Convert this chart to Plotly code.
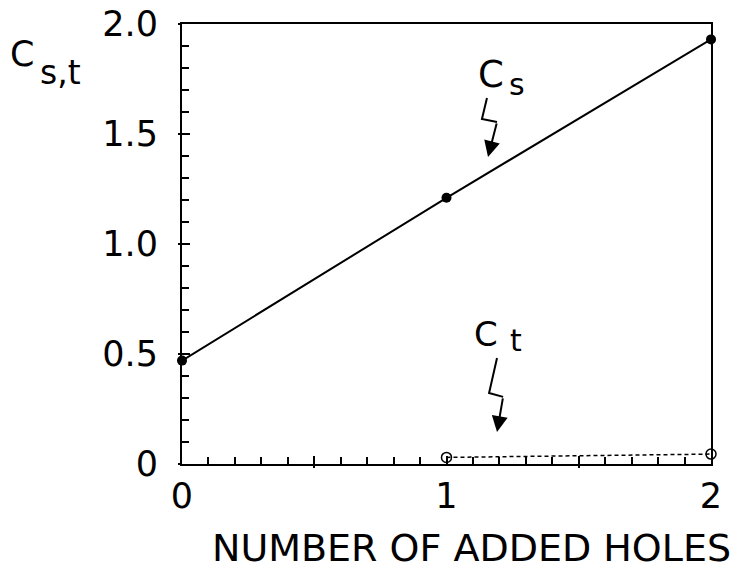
import plotly.graph_objects as go

# Number of added holes and the two coefficients
holes = [0, 1, 2]
cs_values = [0.47, 1.21, 1.93]
ct_holes = [1, 2]
ct_values = [0.03, 0.045]

x_tickvals = [0, 0.5, 1, 1.5, 2]
x_ticktext = ["0", "", "1", "", "2"]
y_tickvals = [0, 0.5, 1.0, 1.5, 2.0]
y_ticktext = ["0", "0.5", "1.0", "1.5", "2.0"]

# Zig-zag pointer paths (data units); last segment carries the arrowhead
cs_pointer_x = [1.153, 1.134, 1.191, 1.157]
cs_pointer_y = [1.664, 1.568, 1.555, 1.395]
ct_pointer_x = [1.191, 1.161, 1.214, 1.191]
ct_pointer_y = [0.482, 0.323, 0.305, 0.145]

FONT = "DejaVu Sans"
W, H = 740, 571
ML, MR, MT, MB = 182, 29, 24, 107
PW, PH = W - ML - MR, H - MT - MB


def paper(px, py):
    """Pixel position on the page -> paper coordinates."""
    return (px - ML) / PW, (H - MB - py) / PH


fig = go.Figure()

fig.add_trace(go.Scatter(
    x=holes, y=cs_values, mode="lines+markers",
    line=dict(color="black", width=2),
    marker=dict(color="black", size=10),
    showlegend=False, cliponaxis=False,
))
fig.add_trace(go.Scatter(
    x=ct_holes, y=ct_values, mode="lines+markers",
    line=dict(color="black", width=1.5, dash="4px,3px"),
    marker=dict(symbol="circle-open", color="black", size=10, line=dict(width=1.5)),
    showlegend=False, cliponaxis=False,
))

for px, py in [(cs_pointer_x, cs_pointer_y), (ct_pointer_x, ct_pointer_y)]:
    fig.add_trace(go.Scatter(
        x=px[:3], y=py[:3], mode="lines",
        line=dict(color="black", width=2),
        showlegend=False, hoverinfo="skip",
    ))
    fig.add_annotation(
        x=px[3], y=py[3], ax=px[2], ay=py[2],
        xref="x", yref="y", axref="x", ayref="y",
        text="", showarrow=True, arrowhead=2, arrowsize=1.6,
        arrowwidth=2, arrowcolor="black",
    )

# Curve and axis labels: main letter plus a lowered subscript
labels = [
    ("C", 491, 74, 37),
    ("s", 517, 84, 30),
    ("C", 486, 334, 34),
    ("t", 516, 340, 30),
    ("C", 22, 54, 35),
    ("s,t", 60, 72, 33),
    ("NUMBER OF ADDED HOLES", 471, 548, 38),
]
for text, lx, ly, size in labels:
    ax_, ay_ = paper(lx, ly)
    fig.add_annotation(
        x=ax_, y=ay_, xref="paper", yref="paper", text=text, showarrow=False,
        font=dict(family=FONT, size=size, color="black"),
        xanchor="center", yanchor="middle",
    )

axis_common = dict(
    showline=True, linecolor="black", linewidth=2, mirror=True,
    showgrid=False, zeroline=False, automargin=False,
    tickfont=dict(family=FONT, size=35, color="black"),
)

fig.update_xaxes(
    range=[0, 2], tickmode="array", tickvals=x_tickvals, ticktext=x_ticktext,
    ticks="inside", ticklen=8, tickwidth=2, tickcolor="black",
    minor=dict(dtick=0.1, ticks="inside", ticklen=7, tickwidth=1.5, tickcolor="black"),
    ticklabelstandoff=0,
    **axis_common,
)
fig.update_yaxes(
    range=[0, 2], tickmode="array", tickvals=y_tickvals, ticktext=y_ticktext,
    ticks="inside", ticklen=8, tickwidth=2, tickcolor="black",
    minor=dict(dtick=0.1, ticks="inside", ticklen=7, tickwidth=1.5, tickcolor="black"),
    ticklabelstandoff=15,
    **axis_common,
)

# Short outward stubs so the half-unit ticks cross the axis lines
fig.update_layout(
    xaxis2=dict(overlaying="x", anchor="y", side="bottom", range=[0, 2],
                tickmode="array", tickvals=[0.5, 1.5], ticks="outside", ticklen=3,
                tickwidth=2, tickcolor="black", showticklabels=False,
                showline=False, showgrid=False, zeroline=False, automargin=False),
    yaxis2=dict(overlaying="y", anchor="x", side="left", range=[0, 2],
                tickmode="array", tickvals=y_tickvals, ticks="outside", ticklen=3,
                tickwidth=2, tickcolor="black", showticklabels=False,
                showline=False, showgrid=False, zeroline=False, automargin=False),
)
fig.add_trace(go.Scatter(x=[None], y=[None], xaxis="x2", yaxis="y2", showlegend=False))

fig.update_layout(
    width=W, height=H,
    margin=dict(l=ML, r=MR, t=MT, b=MB, autoexpand=False),
    paper_bgcolor="white", plot_bgcolor="white",
    showlegend=False,
)

fig.write_html("out.html")
